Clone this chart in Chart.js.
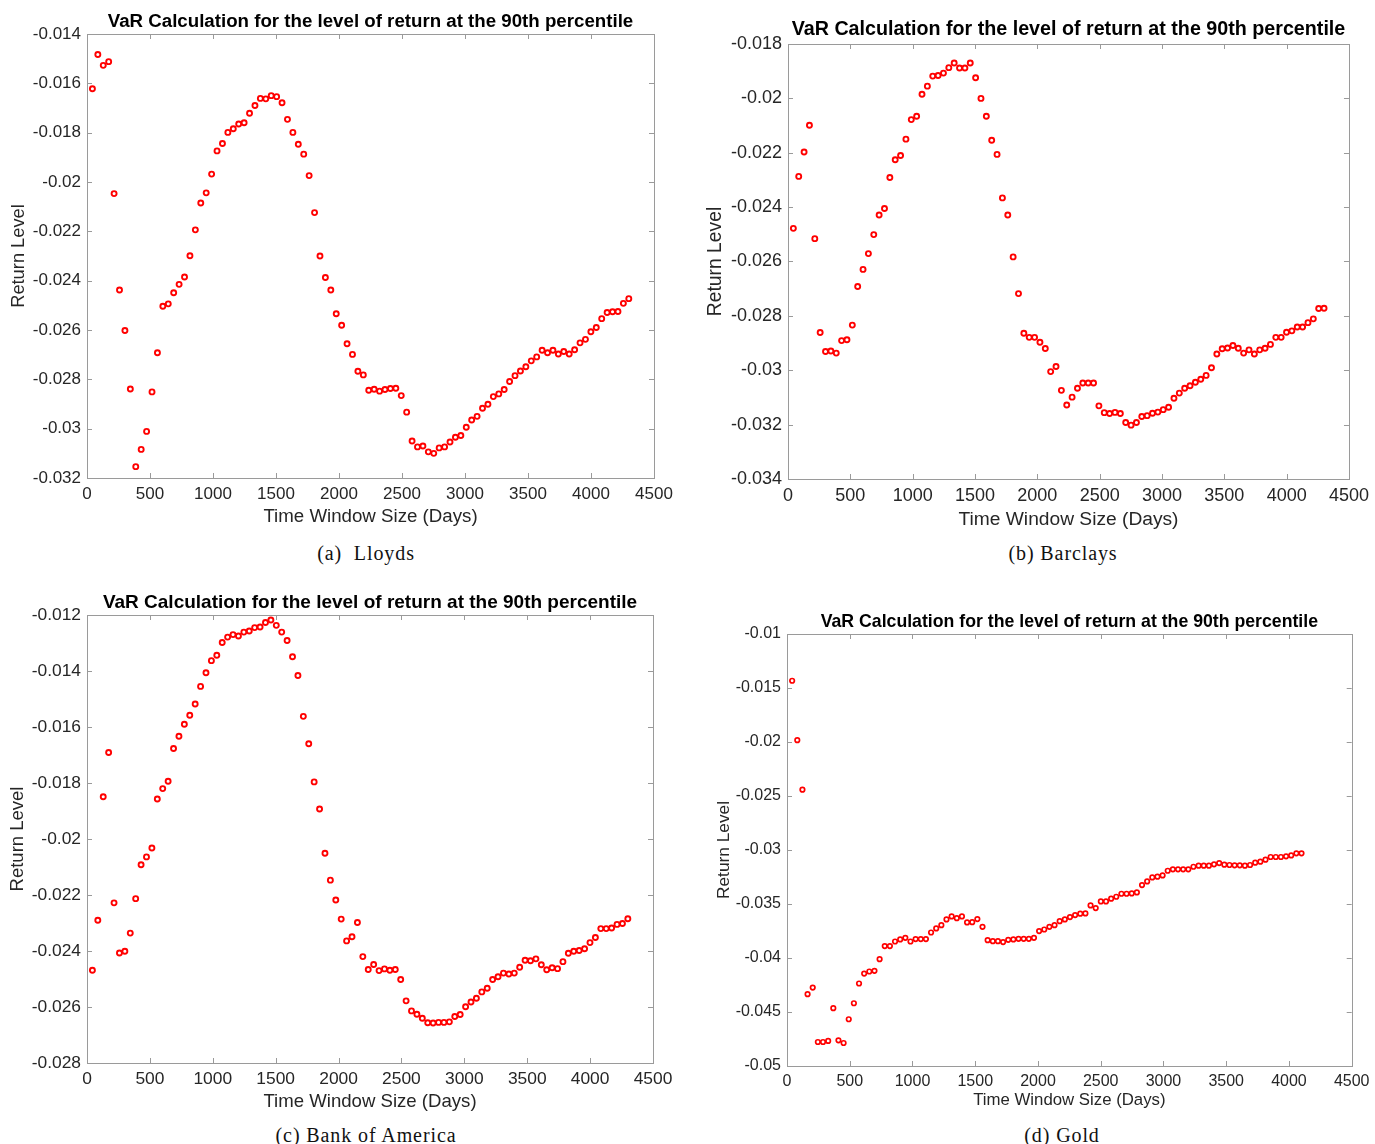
<!DOCTYPE html>
<html>
<head>
<meta charset="utf-8">
<script src="https://cdn.jsdelivr.net/npm/chart.js@4.4.1/dist/chart.umd.min.js"></script>
<style>
  html, body { margin: 0; padding: 0; background: #fff; width: 1375px; height: 1144px; overflow: hidden; position: relative; }
  canvas { position: absolute; display: block; }
  .cap { position: absolute; font-family: "Liberation Serif", "Times New Roman", serif; font-size: 20px; color: #111;
         white-space: pre; transform: translate(-50%, -50%); letter-spacing: 0.9px; }
</style>
</head>
<body>
<canvas id="cLloyds"   width="690" height="530" style="left:0px;top:0px;width:690px;height:530px"></canvas>
<canvas id="cBarclays" width="675" height="532" style="left:700px;top:0px;width:675px;height:532px"></canvas>
<canvas id="cBofA"     width="690" height="530" style="left:0px;top:585px;width:690px;height:530px"></canvas>
<canvas id="cGold"     width="675" height="515" style="left:700px;top:600px;width:675px;height:515px"></canvas>

<div class="cap" style="left:366px;top:553px">(a)  Lloyds</div>
<div class="cap" style="left:1063px;top:553px">(b) Barclays</div>
<div class="cap" style="left:366px;top:1135px">(c) Bank of America</div>
<div class="cap" style="left:1062px;top:1135px">(d) Gold</div>

<script>
// Rolling window sizes (days) used for the three bank series
const bankWindows = [
  43, 86, 129, 172, 215, 258, 301, 344, 387, 430,
  473, 516, 559, 602, 645, 688, 731, 774, 817, 860,
  903, 946, 989, 1032, 1075, 1118, 1161, 1204, 1247, 1290,
  1333, 1376, 1419, 1462, 1505, 1548, 1591, 1634, 1677, 1720,
  1763, 1806, 1849, 1892, 1935, 1978, 2021, 2064, 2107, 2150,
  2193, 2236, 2279, 2322, 2365, 2408, 2451, 2494, 2537, 2580,
  2623, 2666, 2709, 2752, 2795, 2838, 2881, 2924, 2967, 3010,
  3053, 3096, 3139, 3182, 3225, 3268, 3311, 3354, 3397, 3440,
  3483, 3526, 3569, 3612, 3655, 3698, 3741, 3784, 3827, 3870,
  3913, 3956, 3999, 4042, 4085, 4128, 4171, 4214, 4257, 4300
];

// Rolling window sizes (days) used for gold
const goldWindows = [
  41, 82, 123, 164, 205, 246, 287, 328, 369, 410,
  451, 492, 533, 574, 615, 656, 697, 738, 779, 820,
  861, 902, 943, 984, 1025, 1066, 1107, 1148, 1189, 1230,
  1271, 1312, 1353, 1394, 1435, 1476, 1517, 1558, 1599, 1640,
  1681, 1722, 1763, 1804, 1845, 1886, 1927, 1968, 2009, 2050,
  2091, 2132, 2173, 2214, 2255, 2296, 2337, 2378, 2419, 2460,
  2501, 2542, 2583, 2624, 2665, 2706, 2747, 2788, 2829, 2870,
  2911, 2952, 2993, 3034, 3075, 3116, 3157, 3198, 3239, 3280,
  3321, 3362, 3403, 3444, 3485, 3526, 3567, 3608, 3649, 3690,
  3731, 3772, 3813, 3854, 3895, 3936, 3977, 4018, 4059, 4100
];

// 90th-percentile VaR return levels
const lloydsVaR = [
  -0.01622, -0.01483, -0.01527, -0.01512, -0.02047, -0.02438, -0.02602, -0.02839, -0.03154, -0.03084,
  -0.03011, -0.02851, -0.02692, -0.02504, -0.02494, -0.02449, -0.02415, -0.02385, -0.02299, -0.02194,
  -0.02085, -0.02044, -0.01968, -0.01874, -0.01844, -0.01799, -0.01784, -0.01765, -0.01760, -0.01721,
  -0.01690, -0.01661, -0.01663, -0.01650, -0.01654, -0.01679, -0.01746, -0.01799, -0.01847, -0.01887,
  -0.01974, -0.02124, -0.02300, -0.02387, -0.02438, -0.02534, -0.02581, -0.02656, -0.02699, -0.02767,
  -0.02782, -0.02844, -0.02840, -0.02848, -0.02841, -0.02837, -0.02836, -0.02866, -0.02933, -0.03050,
  -0.03074, -0.03070, -0.03094, -0.03100, -0.03078, -0.03074, -0.03054, -0.03035, -0.03028, -0.02994,
  -0.02965, -0.02950, -0.02917, -0.02901, -0.02870, -0.02859, -0.02841, -0.02809, -0.02785, -0.02766,
  -0.02749, -0.02725, -0.02709, -0.02682, -0.02692, -0.02682, -0.02697, -0.02687, -0.02697, -0.02680,
  -0.02652, -0.02638, -0.02607, -0.02590, -0.02554, -0.02529, -0.02526, -0.02525, -0.02492, -0.02473
];

const barclaysVaR = [
  -0.02478, -0.02287, -0.02197, -0.02099, -0.02516, -0.02861, -0.02931, -0.02929, -0.02937, -0.02891,
  -0.02888, -0.02834, -0.02692, -0.02629, -0.02571, -0.02501, -0.02429, -0.02405, -0.02291, -0.02226,
  -0.02210, -0.02150, -0.02078, -0.02066, -0.01985, -0.01955, -0.01918, -0.01916, -0.01907, -0.01887,
  -0.01870, -0.01888, -0.01888, -0.01870, -0.01924, -0.02000, -0.02066, -0.02154, -0.02206, -0.02366,
  -0.02429, -0.02583, -0.02718, -0.02864, -0.02879, -0.02879, -0.02897, -0.02920, -0.03005, -0.02986,
  -0.03074, -0.03128, -0.03099, -0.03066, -0.03047, -0.03047, -0.03047, -0.03131, -0.03156, -0.03159,
  -0.03155, -0.03159, -0.03192, -0.03202, -0.03192, -0.03170, -0.03167, -0.03158, -0.03154, -0.03145,
  -0.03136, -0.03103, -0.03084, -0.03066, -0.03057, -0.03044, -0.03033, -0.03019, -0.02991, -0.02940,
  -0.02921, -0.02918, -0.02909, -0.02919, -0.02937, -0.02925, -0.02940, -0.02925, -0.02919, -0.02905,
  -0.02879, -0.02879, -0.02860, -0.02855, -0.02841, -0.02841, -0.02825, -0.02811, -0.02773, -0.02772
];

const bofaVaR = [
  -0.02469, -0.02290, -0.01849, -0.01691, -0.02228, -0.02407, -0.02401, -0.02336, -0.02213, -0.02092,
  -0.02064, -0.02032, -0.01857, -0.01820, -0.01794, -0.01677, -0.01633, -0.01590, -0.01558, -0.01518,
  -0.01455, -0.01406, -0.01363, -0.01344, -0.01298, -0.01279, -0.01270, -0.01275, -0.01261, -0.01257,
  -0.01245, -0.01243, -0.01227, -0.01218, -0.01237, -0.01261, -0.01291, -0.01349, -0.01416, -0.01562,
  -0.01660, -0.01796, -0.01893, -0.02051, -0.02147, -0.02218, -0.02286, -0.02364, -0.02349, -0.02298,
  -0.02420, -0.02466, -0.02448, -0.02470, -0.02464, -0.02469, -0.02466, -0.02502, -0.02578, -0.02614,
  -0.02626, -0.02640, -0.02656, -0.02657, -0.02655, -0.02655, -0.02653, -0.02634, -0.02627, -0.02599,
  -0.02582, -0.02569, -0.02546, -0.02533, -0.02502, -0.02492, -0.02479, -0.02482, -0.02479, -0.02458,
  -0.02433, -0.02435, -0.02428, -0.02449, -0.02467, -0.02460, -0.02463, -0.02438, -0.02408, -0.02401,
  -0.02398, -0.02392, -0.02370, -0.02352, -0.02320, -0.02320, -0.02318, -0.02305, -0.02302, -0.02285
];

const goldVaR = [
  -0.01433, -0.01983, -0.02441, -0.04335, -0.04274, -0.04778, -0.04778, -0.04768, -0.04465, -0.04762,
  -0.04787, -0.04567, -0.04419, -0.04236, -0.04144, -0.04125, -0.04119, -0.04011, -0.03890, -0.03890,
  -0.03847, -0.03828, -0.03813, -0.03847, -0.03825, -0.03825, -0.03825, -0.03764, -0.03726, -0.03696,
  -0.03643, -0.03615, -0.03631, -0.03615, -0.03671, -0.03668, -0.03640, -0.03711, -0.03835, -0.03844,
  -0.03844, -0.03853, -0.03832, -0.03828, -0.03822, -0.03822, -0.03822, -0.03813, -0.03751, -0.03736,
  -0.03711, -0.03696, -0.03659, -0.03643, -0.03621, -0.03603, -0.03590, -0.03587, -0.03513, -0.03538,
  -0.03476, -0.03476, -0.03451, -0.03433, -0.03405, -0.03405, -0.03402, -0.03393, -0.03325, -0.03291,
  -0.03254, -0.03247, -0.03235, -0.03192, -0.03179, -0.03179, -0.03179, -0.03179, -0.03155, -0.03145,
  -0.03145, -0.03145, -0.03133, -0.03121, -0.03136, -0.03139, -0.03142, -0.03142, -0.03145, -0.03139,
  -0.03117, -0.03108, -0.03090, -0.03065, -0.03065, -0.03065, -0.03059, -0.03050, -0.03031, -0.03031
];

// Axis ticks
const xTicks = [0, 500, 1000, 1500, 2000, 2500, 3000, 3500, 4000, 4500];
const yTicksLloyds   = [-0.032, -0.03, -0.028, -0.026, -0.024, -0.022, -0.02, -0.018, -0.016, -0.014];
const yTicksBarclays = [-0.034, -0.032, -0.03, -0.028, -0.026, -0.024, -0.022, -0.02, -0.018];
const yTicksBofA     = [-0.028, -0.026, -0.024, -0.022, -0.02, -0.018, -0.016, -0.014, -0.012];
const yTicksGold     = [-0.05, -0.045, -0.04, -0.035, -0.03, -0.025, -0.02, -0.015, -0.01];

const chartTitle = 'VaR Calculation for the level of return at the 90th percentile';
const xLabel = 'Time Window Size (Days)';
const yLabel = 'Return Level';

const SANS = '"Liberation Sans", Arial, Helvetica, sans-serif';

// Box outline with inward tick marks on all four sides, plus the panel title
const framePlugin = {
  id: 'frame',
  beforeDatasetsDraw(chart, args, opts) {
    const { ctx, chartArea: a, scales: { x, y } } = chart;
    ctx.save();
    ctx.strokeStyle = opts.color;
    ctx.lineWidth = 1;
    ctx.strokeRect(Math.round(a.left) + 0.5, Math.round(a.top) + 0.5,
                   Math.round(a.right) - Math.round(a.left), Math.round(a.bottom) - Math.round(a.top));
    const len = opts.tickLen;
    ctx.beginPath();
    x.ticks.forEach(t => {
      const px = Math.round(x.getPixelForValue(t.value)) + 0.5;
      ctx.moveTo(px, a.bottom); ctx.lineTo(px, a.bottom - len);
      ctx.moveTo(px, a.top);    ctx.lineTo(px, a.top + len);
    });
    y.ticks.forEach(t => {
      const py = Math.round(y.getPixelForValue(t.value)) + 0.5;
      ctx.moveTo(a.left, py);  ctx.lineTo(a.left + len, py);
      ctx.moveTo(a.right, py); ctx.lineTo(a.right - len, py);
    });
    ctx.stroke();
    ctx.restore();
  },
  afterDraw(chart, args, opts) {
    const { ctx, chartArea: a } = chart;
    ctx.save();
    ctx.fillStyle = '#000';
    ctx.font = 'bold ' + opts.titleSize + 'px ' + SANS;
    ctx.textAlign = 'center';
    ctx.textBaseline = 'middle';
    ctx.fillText(opts.title, (a.left + a.right) / 2, a.top - opts.titleGap);
    ctx.restore();
  }
};

function makePanel(id, windows, values, yTicks, g) {
  const points = windows.map((w, i) => ({ x: w, y: values[i] }));
  return new Chart(document.getElementById(id), {
    type: 'scatter',
    data: {
      datasets: [{
        data: points,
        showLine: false,
        pointStyle: 'circle',
        pointRadius: g.r,
        pointBorderWidth: g.bw,
        pointBackgroundColor: 'rgba(0,0,0,0)',
        pointBorderColor: '#ff0000',
        borderColor: '#ff0000'
      }]
    },
    options: {
      responsive: false,
      animation: false,
      events: [],
      layout: { padding: { left: 0, top: g.padTop, right: g.padRight, bottom: 0 } },
      plugins: {
        legend: { display: false },
        tooltip: { enabled: false },
        frame: { color: '#9a9a9a', tickLen: 5, title: chartTitle, titleSize: g.titleSize, titleGap: g.titleGap }
      },
      scales: {
        x: {
          type: 'linear',
          min: xTicks[0],
          max: xTicks[xTicks.length - 1],
          afterBuildTicks: s => { s.ticks = xTicks.map(v => ({ value: v })); },
          afterFit: s => { s.height = g.axisH; },
          grid: { display: false, drawTicks: false },
          border: { display: false },
          ticks: {
            autoSkip: false, maxRotation: 0, padding: g.xTickPad, color: '#262626',
            font: { family: SANS, size: g.tickSize },
            callback: v => String(v)
          },
          title: {
            display: true, text: xLabel, color: '#262626',
            font: { family: SANS, size: g.xTitleSize },
            padding: { top: 0, bottom: g.xTitlePad }
          }
        },
        y: {
          type: 'linear',
          min: yTicks[0],
          max: yTicks[yTicks.length - 1],
          afterBuildTicks: s => { s.ticks = yTicks.map(v => ({ value: v })); },
          afterFit: s => { s.width = g.axisW; },
          grid: { display: false, drawTicks: false },
          border: { display: false },
          ticks: {
            autoSkip: false, padding: 6, color: '#262626',
            font: { family: SANS, size: g.tickSize },
            callback: v => String(v)
          },
          title: {
            display: true, text: yLabel, color: '#262626',
            font: { family: SANS, size: g.yTitleSize },
            padding: { top: g.yTitlePad, bottom: 0 }
          }
        }
      }
    },
    plugins: [framePlugin]
  });
}

makePanel('cLloyds', bankWindows, lloydsVaR, yTicksLloyds, {
  padTop: 34, padRight: 36, axisW: 87, axisH: 52, r: 2.5, bw: 1.9,
  tickSize: 17, xTickPad: 6, xTitleSize: 18.7, yTitleSize: 18.3, xTitlePad: 2, yTitlePad: 8,
  titleSize: 18.7, titleGap: 12.3
});

makePanel('cBarclays', bankWindows, barclaysVaR, yTicksBarclays, {
  padTop: 44, padRight: 22, axisW: 88, axisH: 53, r: 2.5, bw: 1.9,
  tickSize: 18, xTickPad: 6, xTitleSize: 19.2, yTitleSize: 19.3, xTitlePad: 0.5, yTitlePad: 4.5,
  titleSize: 19.7, titleGap: 14
});

makePanel('cBofA', bankWindows, bofaVaR, yTicksBofA, {
  padTop: 30, padRight: 37, axisW: 87, axisH: 52, r: 2.5, bw: 1.9,
  tickSize: 17.4, xTickPad: 6, xTitleSize: 18.6, yTitleSize: 18.5, xTitlePad: 1.8, yTitlePad: 7,
  titleSize: 19, titleGap: 12.3
});

makePanel('cGold', goldWindows, goldVaR, yTicksGold, {
  padTop: 34, padRight: 22, axisW: 87, axisH: 49, r: 2.25, bw: 1.7,
  tickSize: 16, xTickPad: 5.5, xTitleSize: 16.8, yTitleSize: 17.3, xTitlePad: 4.8, yTitlePad: 13.8,
  titleSize: 17.7, titleGap: 12.3
});
</script>
</body>
</html>
